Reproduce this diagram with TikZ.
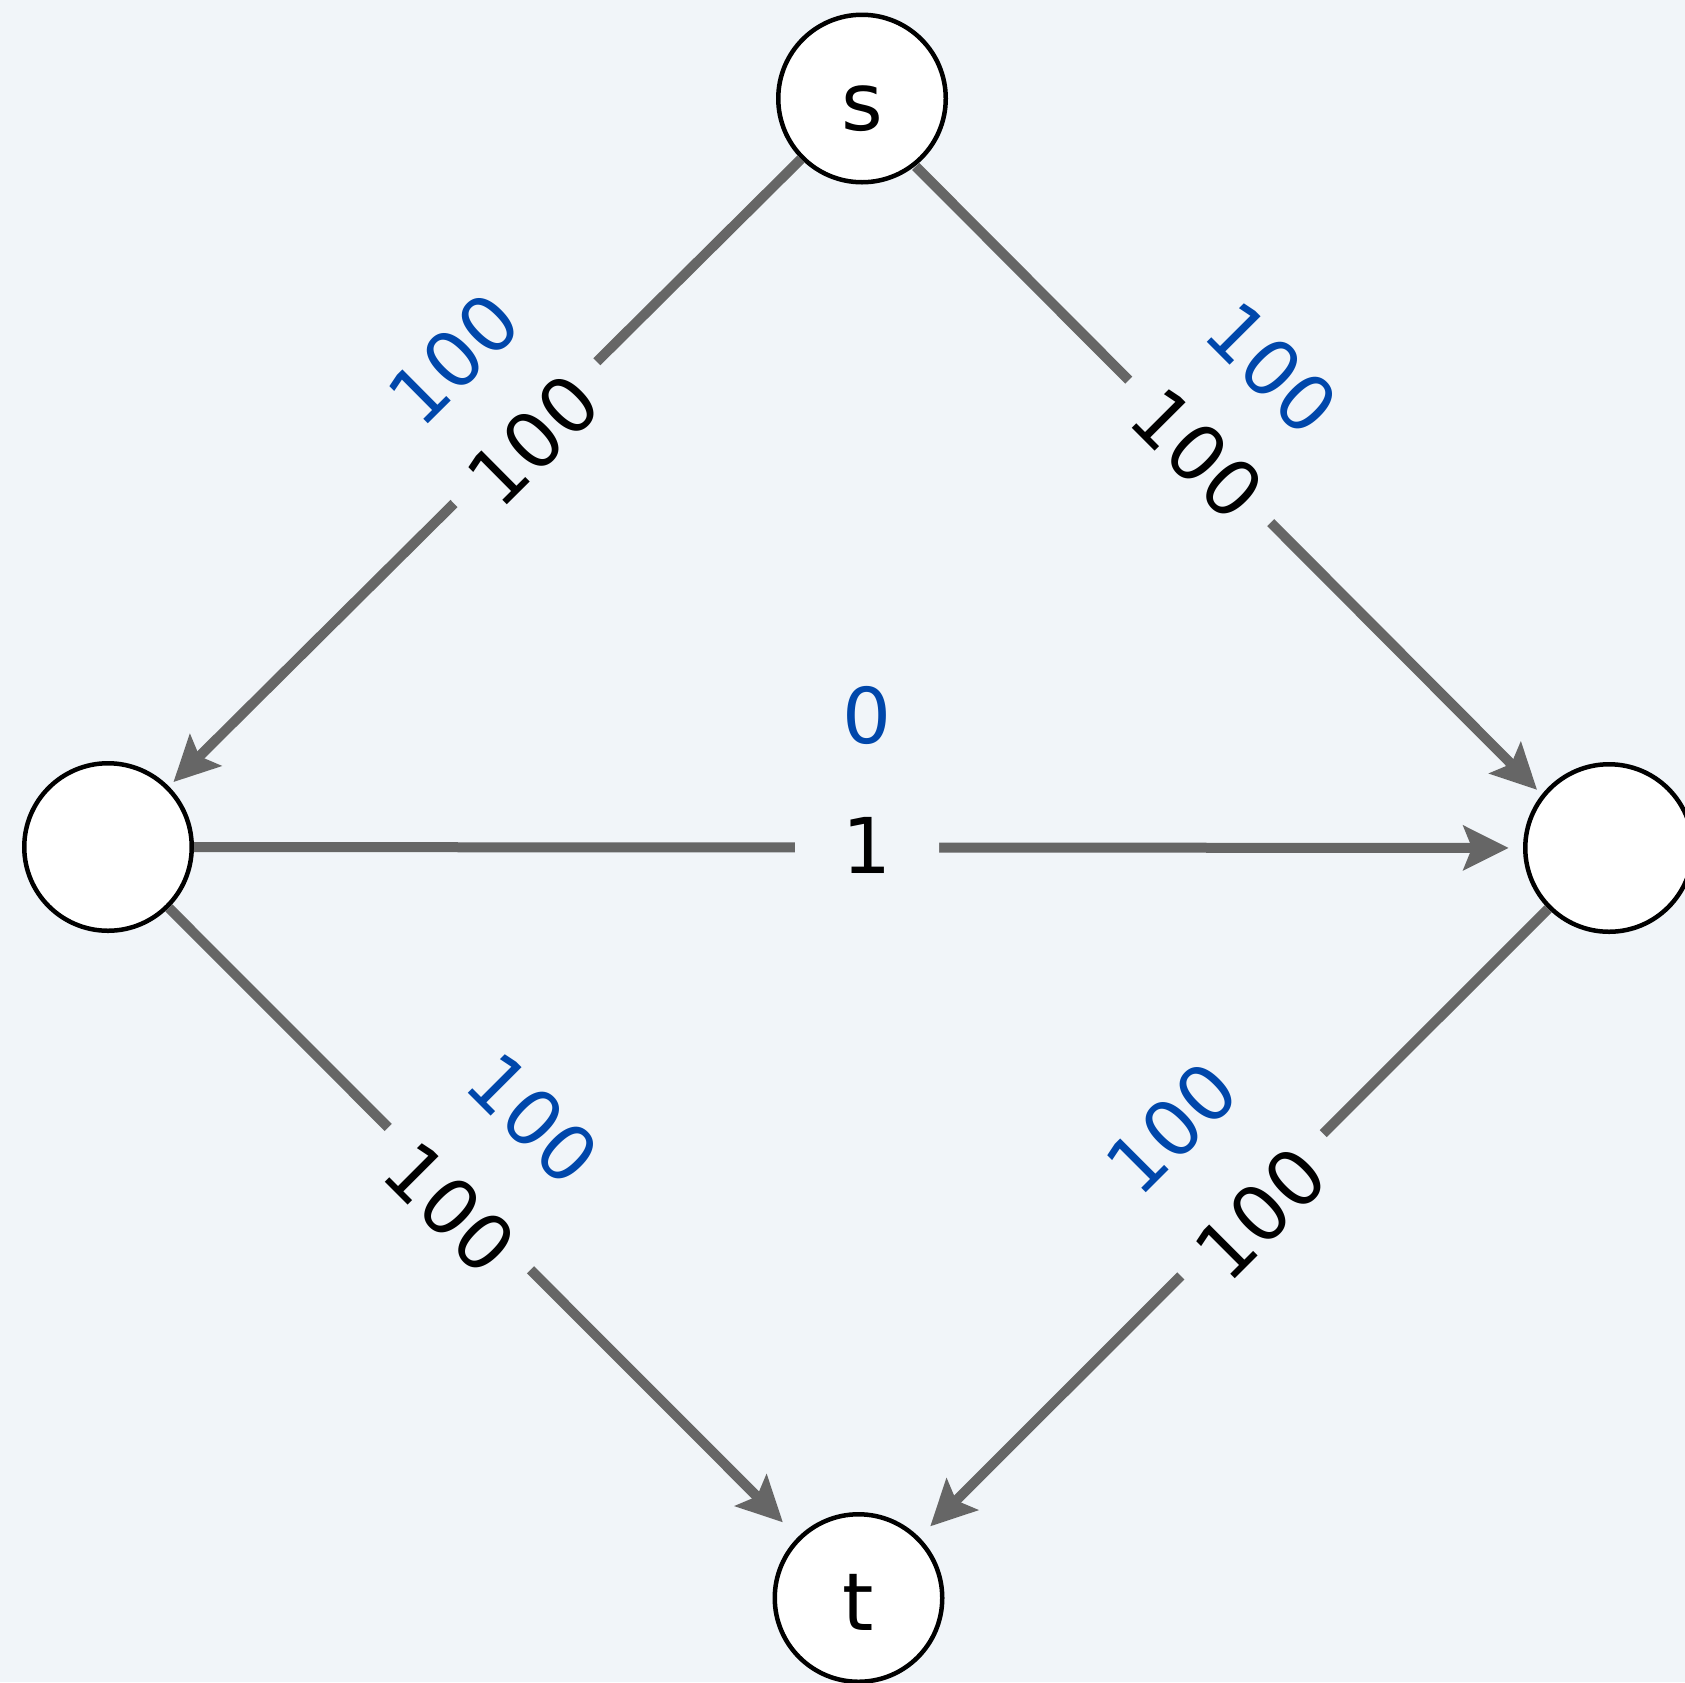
\documentclass[tikz,border=0pt]{standalone}
\usepackage{fontspec}
\setmainfont{DejaVu Sans}
\usepackage{tikz}
\usetikzlibrary{arrows.meta,positioning}
\definecolor{bgcol}{HTML}{F1F5F9}
\definecolor{edgegray}{HTML}{666666}
\definecolor{flowblue}{HTML}{0047AB}

\begin{document}
\begin{tikzpicture}[x=0.5pt, y=-0.5pt,
		vertex/.style={circle, draw=black, line width=2.25pt, fill=white, minimum size=83.75pt, inner sep=0pt, text height=32pt, text depth=0pt, font=\fontsize{40}{48}\selectfont},
		edge/.style={draw=edgegray, line width=5pt, -{Stealth[length=22.5pt, width=22pt, inset=4.2pt]}},
		caplabel/.style={sloped, fill=bgcol, inner xsep=13.5pt, inner ysep=2pt, minimum width=72pt, font=\fontsize{38.5}{46}\selectfont},
		flowlabel/.style={sloped, text=flowblue, inner sep=0pt, font=\fontsize{38.5}{46}\selectfont}]
			\fill [bgcol] (0,0) rectangle (1685,1682);
			\useasboundingbox (0,0) rectangle (1685,1682);
			\node [vertex] (s) at (862,98.5) {s};
			\node [vertex] (l) at (108,847) {};
			\node [vertex] (r) at (1609,848) {};
			\node [vertex] (t) at (858.5,1598) {t};
			
			\draw [edge, shorten >=3.1pt] (s) -- node [caplabel, pos=0.436, yshift=-5.3pt] {100} node [flowlabel, pos=0.435, yshift=51.5pt] {100} (l);
			\draw [edge, shorten >=3pt, transform canvas={shift={(-3.5pt,-3.5pt)}}] (s) -- node [caplabel, pos=0.454, yshift=-1.5pt] {100} node [flowlabel, pos=0.445, yshift=55pt] {100} (r);
			\draw [edge, shorten >=7.2pt] (l) -- node [caplabel, pos=0.5065, yshift=0.9pt] {1} node [flowlabel, pos=0.5065, yshift=66pt] {0} (r);
			\draw [edge, shorten >=10.5pt] (l) -- node [caplabel, pos=0.462, yshift=-6.3pt] {100} node [flowlabel, pos=0.457, yshift=54.5pt] {100} (t);
			\draw [edge, shorten >=7.7pt] (r) -- node [caplabel, pos=0.471, yshift=-6pt] {100} node [flowlabel, pos=0.474, yshift=55.5pt] {100} (t);
		\end{tikzpicture}
\end{document}
